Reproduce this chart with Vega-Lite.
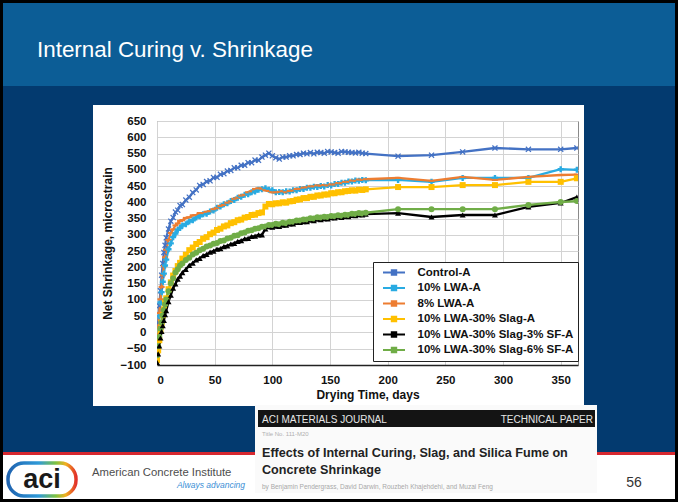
{
  "$schema": "https://vega.github.io/schema/vega-lite/v6.json",
  "width": 421,
  "height": 244,
  "autosize": "none",
  "padding": {"left": 157, "top": 121, "right": 100, "bottom": 137},
  "background": "#ffffff",
  "config": {
    "font": "Liberation Sans",
    "view": {"stroke": "#8a8a8a", "strokeWidth": 1},
    "axis": {
      "labelFont": "Liberation Sans",
      "labelFontWeight": "bold",
      "labelFontSize": 11.5,
      "labelColor": "#111111",
      "titleFont": "Liberation Sans",
      "titleFontWeight": "bold",
      "titleFontSize": 12,
      "titleColor": "#111111",
      "ticks": false,
      "gridColor": "#d3d3d3",
      "gridWidth": 1
    }
  },
  "datasets": {
    "shrink": [
      {"day": 0, "Control-A": -30, "10% LWA-A": -40, "8% LWA-A": -42, "10% LWA-30% Slag-A": -85, "10% LWA-30% Slag-3% SF-A": -92, "10% LWA-30% Slag-6% SF-A": -70},
      {"day": 1, "Control-A": 30, "10% LWA-A": 8, "8% LWA-A": 15, "10% LWA-30% Slag-A": -55, "10% LWA-30% Slag-3% SF-A": -66, "10% LWA-30% Slag-6% SF-A": -42},
      {"day": 2, "Control-A": 82, "10% LWA-A": 50, "8% LWA-A": 60, "10% LWA-30% Slag-A": -24, "10% LWA-30% Slag-3% SF-A": -41, "10% LWA-30% Slag-6% SF-A": -14},
      {"day": 3, "Control-A": 128, "10% LWA-A": 92, "8% LWA-A": 102, "10% LWA-30% Slag-A": 6, "10% LWA-30% Slag-3% SF-A": -17, "10% LWA-30% Slag-6% SF-A": 12},
      {"day": 4, "Control-A": 176, "10% LWA-A": 124, "8% LWA-A": 140, "10% LWA-30% Slag-A": 30, "10% LWA-30% Slag-3% SF-A": 3, "10% LWA-30% Slag-6% SF-A": 31},
      {"day": 5, "Control-A": 212, "10% LWA-A": 156, "8% LWA-A": 176, "10% LWA-30% Slag-A": 53, "10% LWA-30% Slag-3% SF-A": 21, "10% LWA-30% Slag-6% SF-A": 53},
      {"day": 6, "Control-A": 246, "10% LWA-A": 181, "8% LWA-A": 204, "10% LWA-30% Slag-A": 71, "10% LWA-30% Slag-3% SF-A": 37, "10% LWA-30% Slag-6% SF-A": 69},
      {"day": 7, "Control-A": 268, "10% LWA-A": 206, "8% LWA-A": 231, "10% LWA-30% Slag-A": 91, "10% LWA-30% Slag-3% SF-A": 55, "10% LWA-30% Slag-6% SF-A": 87},
      {"day": 8, "Control-A": 291, "10% LWA-A": 224, "8% LWA-A": 254, "10% LWA-30% Slag-A": 105, "10% LWA-30% Slag-3% SF-A": 67, "10% LWA-30% Slag-6% SF-A": 101},
      {"day": 10, "Control-A": 318, "10% LWA-A": 256, "8% LWA-A": 284, "10% LWA-30% Slag-A": 133, "10% LWA-30% Slag-3% SF-A": 95, "10% LWA-30% Slag-6% SF-A": 127},
      {"day": 12, "Control-A": 342, "10% LWA-A": 274, "8% LWA-A": 306, "10% LWA-30% Slag-A": 154, "10% LWA-30% Slag-3% SF-A": 115, "10% LWA-30% Slag-6% SF-A": 151},
      {"day": 14, "Control-A": 353, "10% LWA-A": 293, "8% LWA-A": 317, "10% LWA-30% Slag-A": 175, "10% LWA-30% Slag-3% SF-A": 136, "10% LWA-30% Slag-6% SF-A": 167},
      {"day": 16, "Control-A": 370, "10% LWA-A": 304, "8% LWA-A": 329, "10% LWA-30% Slag-A": 189, "10% LWA-30% Slag-3% SF-A": 149, "10% LWA-30% Slag-6% SF-A": 184},
      {"day": 18, "Control-A": 376, "10% LWA-A": 316, "8% LWA-A": 335, "10% LWA-30% Slag-A": 204, "10% LWA-30% Slag-3% SF-A": 164, "10% LWA-30% Slag-6% SF-A": 194},
      {"day": 20, "Control-A": 390, "10% LWA-A": 321, "8% LWA-A": 343, "10% LWA-30% Slag-A": 214, "10% LWA-30% Slag-3% SF-A": 173, "10% LWA-30% Slag-6% SF-A": 206},
      {"day": 22, "Control-A": 393, "10% LWA-A": 329, "8% LWA-A": 345, "10% LWA-30% Slag-A": 227, "10% LWA-30% Slag-3% SF-A": 184, "10% LWA-30% Slag-6% SF-A": 212},
      {"day": 25, "Control-A": 407, "10% LWA-A": 333, "8% LWA-A": 352, "10% LWA-30% Slag-A": 239, "10% LWA-30% Slag-3% SF-A": 194, "10% LWA-30% Slag-6% SF-A": 223},
      {"day": 28, "Control-A": 416, "10% LWA-A": 341, "8% LWA-A": 354, "10% LWA-30% Slag-A": 253, "10% LWA-30% Slag-3% SF-A": 206, "10% LWA-30% Slag-6% SF-A": 230},
      {"day": 31, "Control-A": 430, "10% LWA-A": 345, "8% LWA-A": 360, "10% LWA-30% Slag-A": 261, "10% LWA-30% Slag-3% SF-A": 213, "10% LWA-30% Slag-6% SF-A": 240},
      {"day": 34, "Control-A": 438, "10% LWA-A": 353, "8% LWA-A": 361, "10% LWA-30% Slag-A": 272, "10% LWA-30% Slag-3% SF-A": 223, "10% LWA-30% Slag-6% SF-A": 245},
      {"day": 37, "Control-A": 452, "10% LWA-A": 357, "8% LWA-A": 367, "10% LWA-30% Slag-A": 278, "10% LWA-30% Slag-3% SF-A": 228, "10% LWA-30% Slag-6% SF-A": 253},
      {"day": 40, "Control-A": 455, "10% LWA-A": 363, "8% LWA-A": 367, "10% LWA-30% Slag-A": 288, "10% LWA-30% Slag-3% SF-A": 236, "10% LWA-30% Slag-6% SF-A": 257},
      {"day": 43, "Control-A": 464, "10% LWA-A": 365, "8% LWA-A": 371, "10% LWA-30% Slag-A": 293, "10% LWA-30% Slag-3% SF-A": 240, "10% LWA-30% Slag-6% SF-A": 264},
      {"day": 46, "Control-A": 466, "10% LWA-A": 372, "8% LWA-A": 373, "10% LWA-30% Slag-A": 302, "10% LWA-30% Slag-3% SF-A": 247, "10% LWA-30% Slag-6% SF-A": 267},
      {"day": 49, "Control-A": 476, "10% LWA-A": 375, "8% LWA-A": 379, "10% LWA-30% Slag-A": 307, "10% LWA-30% Slag-3% SF-A": 250, "10% LWA-30% Slag-6% SF-A": 273},
      {"day": 52, "Control-A": 477, "10% LWA-A": 383, "8% LWA-A": 382, "10% LWA-30% Slag-A": 315, "10% LWA-30% Slag-3% SF-A": 256, "10% LWA-30% Slag-6% SF-A": 275},
      {"day": 55, "Control-A": 486, "10% LWA-A": 387, "8% LWA-A": 389, "10% LWA-30% Slag-A": 319, "10% LWA-30% Slag-3% SF-A": 258, "10% LWA-30% Slag-6% SF-A": 281},
      {"day": 58, "Control-A": 488, "10% LWA-A": 394, "8% LWA-A": 392, "10% LWA-30% Slag-A": 326, "10% LWA-30% Slag-3% SF-A": 264, "10% LWA-30% Slag-6% SF-A": 283},
      {"day": 61, "Control-A": 496, "10% LWA-A": 397, "8% LWA-A": 399, "10% LWA-30% Slag-A": 329, "10% LWA-30% Slag-3% SF-A": 266, "10% LWA-30% Slag-6% SF-A": 289},
      {"day": 64, "Control-A": 498, "10% LWA-A": 404, "8% LWA-A": 403, "10% LWA-30% Slag-A": 336, "10% LWA-30% Slag-3% SF-A": 272, "10% LWA-30% Slag-6% SF-A": 291},
      {"day": 67, "Control-A": 506, "10% LWA-A": 407, "8% LWA-A": 411, "10% LWA-30% Slag-A": 339, "10% LWA-30% Slag-3% SF-A": 274, "10% LWA-30% Slag-6% SF-A": 297},
      {"day": 70, "Control-A": 506, "10% LWA-A": 414, "8% LWA-A": 414, "10% LWA-30% Slag-A": 345, "10% LWA-30% Slag-3% SF-A": 280, "10% LWA-30% Slag-6% SF-A": 299},
      {"day": 73, "Control-A": 514, "10% LWA-A": 417, "8% LWA-A": 421, "10% LWA-30% Slag-A": 347, "10% LWA-30% Slag-3% SF-A": 282, "10% LWA-30% Slag-6% SF-A": 305},
      {"day": 76, "Control-A": 514, "10% LWA-A": 423, "8% LWA-A": 423, "10% LWA-30% Slag-A": 353, "10% LWA-30% Slag-3% SF-A": 288, "10% LWA-30% Slag-6% SF-A": 307},
      {"day": 79, "Control-A": 522, "10% LWA-A": 425, "8% LWA-A": 431, "10% LWA-30% Slag-A": 355, "10% LWA-30% Slag-3% SF-A": 289, "10% LWA-30% Slag-6% SF-A": 313},
      {"day": 82, "Control-A": 522, "10% LWA-A": 431, "8% LWA-A": 434, "10% LWA-30% Slag-A": 361, "10% LWA-30% Slag-3% SF-A": 295, "10% LWA-30% Slag-6% SF-A": 314},
      {"day": 85, "Control-A": 530, "10% LWA-A": 433, "8% LWA-A": 441, "10% LWA-30% Slag-A": 362, "10% LWA-30% Slag-3% SF-A": 296, "10% LWA-30% Slag-6% SF-A": 319},
      {"day": 88, "Control-A": 529, "10% LWA-A": 439, "8% LWA-A": 443, "10% LWA-30% Slag-A": 367, "10% LWA-30% Slag-3% SF-A": 300, "10% LWA-30% Slag-6% SF-A": 320},
      {"day": 91, "Control-A": 539, "10% LWA-A": 440, "8% LWA-A": 442, "10% LWA-30% Slag-A": 369, "10% LWA-30% Slag-3% SF-A": 300, "10% LWA-30% Slag-6% SF-A": 325},
      {"day": 94, "Control-A": 545, "10% LWA-A": 443, "8% LWA-A": 437, "10% LWA-30% Slag-A": 387, "10% LWA-30% Slag-3% SF-A": 318, "10% LWA-30% Slag-6% SF-A": 326},
      {"day": 97, "Control-A": 551, "10% LWA-A": 439, "8% LWA-A": 435, "10% LWA-30% Slag-A": 395, "10% LWA-30% Slag-3% SF-A": 325, "10% LWA-30% Slag-6% SF-A": 330},
      {"day": 100, "Control-A": 543, "10% LWA-A": 437, "8% LWA-A": 431, "10% LWA-30% Slag-A": 394, "10% LWA-30% Slag-3% SF-A": 324, "10% LWA-30% Slag-6% SF-A": 330},
      {"day": 103, "Control-A": 537, "10% LWA-A": 431, "8% LWA-A": 431, "10% LWA-30% Slag-A": 397, "10% LWA-30% Slag-3% SF-A": 327, "10% LWA-30% Slag-6% SF-A": 334},
      {"day": 106, "Control-A": 533, "10% LWA-A": 432, "8% LWA-A": 432, "10% LWA-30% Slag-A": 397, "10% LWA-30% Slag-3% SF-A": 326, "10% LWA-30% Slag-6% SF-A": 333},
      {"day": 109, "Control-A": 539, "10% LWA-A": 431, "8% LWA-A": 434, "10% LWA-30% Slag-A": 400, "10% LWA-30% Slag-3% SF-A": 330, "10% LWA-30% Slag-6% SF-A": 337},
      {"day": 112, "Control-A": 539, "10% LWA-A": 434, "8% LWA-A": 431, "10% LWA-30% Slag-A": 399, "10% LWA-30% Slag-3% SF-A": 330, "10% LWA-30% Slag-6% SF-A": 336},
      {"day": 115, "Control-A": 543, "10% LWA-A": 433, "8% LWA-A": 435, "10% LWA-30% Slag-A": 403, "10% LWA-30% Slag-3% SF-A": 334, "10% LWA-30% Slag-6% SF-A": 340},
      {"day": 118, "Control-A": 543, "10% LWA-A": 437, "8% LWA-A": 436, "10% LWA-30% Slag-A": 404, "10% LWA-30% Slag-3% SF-A": 334, "10% LWA-30% Slag-6% SF-A": 340},
      {"day": 121, "Control-A": 547, "10% LWA-A": 437, "8% LWA-A": 441, "10% LWA-30% Slag-A": 408, "10% LWA-30% Slag-3% SF-A": 338, "10% LWA-30% Slag-6% SF-A": 344},
      {"day": 124, "Control-A": 547, "10% LWA-A": 441, "8% LWA-A": 441, "10% LWA-30% Slag-A": 409, "10% LWA-30% Slag-3% SF-A": 338, "10% LWA-30% Slag-6% SF-A": 344},
      {"day": 127, "Control-A": 551, "10% LWA-A": 441, "8% LWA-A": 445, "10% LWA-30% Slag-A": 413, "10% LWA-30% Slag-3% SF-A": 341, "10% LWA-30% Slag-6% SF-A": 347},
      {"day": 130, "Control-A": 549, "10% LWA-A": 445, "8% LWA-A": 446, "10% LWA-30% Slag-A": 413, "10% LWA-30% Slag-3% SF-A": 341, "10% LWA-30% Slag-6% SF-A": 347},
      {"day": 133, "Control-A": 553, "10% LWA-A": 445, "8% LWA-A": 449, "10% LWA-30% Slag-A": 417, "10% LWA-30% Slag-3% SF-A": 345, "10% LWA-30% Slag-6% SF-A": 351},
      {"day": 136, "Control-A": 549, "10% LWA-A": 448, "8% LWA-A": 449, "10% LWA-30% Slag-A": 417, "10% LWA-30% Slag-3% SF-A": 344, "10% LWA-30% Slag-6% SF-A": 350},
      {"day": 139, "Control-A": 554, "10% LWA-A": 447, "8% LWA-A": 452, "10% LWA-30% Slag-A": 421, "10% LWA-30% Slag-3% SF-A": 348, "10% LWA-30% Slag-6% SF-A": 354},
      {"day": 142, "Control-A": 553, "10% LWA-A": 450, "8% LWA-A": 451, "10% LWA-30% Slag-A": 421, "10% LWA-30% Slag-3% SF-A": 347, "10% LWA-30% Slag-6% SF-A": 353},
      {"day": 145, "Control-A": 551, "10% LWA-A": 449, "8% LWA-A": 453, "10% LWA-30% Slag-A": 424, "10% LWA-30% Slag-3% SF-A": 350, "10% LWA-30% Slag-6% SF-A": 356},
      {"day": 148, "Control-A": 556, "10% LWA-A": 453, "8% LWA-A": 452, "10% LWA-30% Slag-A": 424, "10% LWA-30% Slag-3% SF-A": 349, "10% LWA-30% Slag-6% SF-A": 355},
      {"day": 151, "Control-A": 555, "10% LWA-A": 452, "8% LWA-A": 455, "10% LWA-30% Slag-A": 428, "10% LWA-30% Slag-3% SF-A": 353, "10% LWA-30% Slag-6% SF-A": 358},
      {"day": 154, "Control-A": 553, "10% LWA-A": 456, "8% LWA-A": 455, "10% LWA-30% Slag-A": 428, "10% LWA-30% Slag-3% SF-A": 352, "10% LWA-30% Slag-6% SF-A": 357},
      {"day": 157, "Control-A": 551, "10% LWA-A": 456, "8% LWA-A": 459, "10% LWA-30% Slag-A": 431, "10% LWA-30% Slag-3% SF-A": 355, "10% LWA-30% Slag-6% SF-A": 360},
      {"day": 160, "Control-A": 556, "10% LWA-A": 460, "8% LWA-A": 459, "10% LWA-30% Slag-A": 431, "10% LWA-30% Slag-3% SF-A": 354, "10% LWA-30% Slag-6% SF-A": 359},
      {"day": 163, "Control-A": 555, "10% LWA-A": 460, "8% LWA-A": 463, "10% LWA-30% Slag-A": 434, "10% LWA-30% Slag-3% SF-A": 357, "10% LWA-30% Slag-6% SF-A": 362},
      {"day": 166, "Control-A": 554, "10% LWA-A": 464, "8% LWA-A": 463, "10% LWA-30% Slag-A": 435, "10% LWA-30% Slag-3% SF-A": 356, "10% LWA-30% Slag-6% SF-A": 361},
      {"day": 169, "Control-A": 553, "10% LWA-A": 464, "8% LWA-A": 467, "10% LWA-30% Slag-A": 437, "10% LWA-30% Slag-3% SF-A": 360, "10% LWA-30% Slag-6% SF-A": 365},
      {"day": 172, "Control-A": 552, "10% LWA-A": 467, "8% LWA-A": 466, "10% LWA-30% Slag-A": 436, "10% LWA-30% Slag-3% SF-A": 359, "10% LWA-30% Slag-6% SF-A": 364},
      {"day": 175, "Control-A": 554, "10% LWA-A": 466, "8% LWA-A": 470, "10% LWA-30% Slag-A": 439, "10% LWA-30% Slag-3% SF-A": 362, "10% LWA-30% Slag-6% SF-A": 367},
      {"day": 178, "Control-A": 551, "10% LWA-A": 469, "8% LWA-A": 469, "10% LWA-30% Slag-A": 438, "10% LWA-30% Slag-3% SF-A": 361, "10% LWA-30% Slag-6% SF-A": 366},
      {"day": 181, "Control-A": 550, "10% LWA-A": 468, "8% LWA-A": 471, "10% LWA-30% Slag-A": 440, "10% LWA-30% Slag-3% SF-A": 364, "10% LWA-30% Slag-6% SF-A": 368},
      {"day": 209, "Control-A": 542, "10% LWA-A": 469, "8% LWA-A": 475, "10% LWA-30% Slag-A": 447, "10% LWA-30% Slag-3% SF-A": 367, "10% LWA-30% Slag-6% SF-A": 379},
      {"day": 238, "Control-A": 545, "10% LWA-A": 463, "8% LWA-A": 466, "10% LWA-30% Slag-A": 447, "10% LWA-30% Slag-3% SF-A": 355, "10% LWA-30% Slag-6% SF-A": 379},
      {"day": 265, "Control-A": 555, "10% LWA-A": 475, "8% LWA-A": 478, "10% LWA-30% Slag-A": 453, "10% LWA-30% Slag-3% SF-A": 361, "10% LWA-30% Slag-6% SF-A": 379},
      {"day": 293, "Control-A": 567, "10% LWA-A": 475, "8% LWA-A": 469, "10% LWA-30% Slag-A": 453, "10% LWA-30% Slag-3% SF-A": 361, "10% LWA-30% Slag-6% SF-A": 379},
      {"day": 322, "Control-A": 563, "10% LWA-A": 475, "8% LWA-A": 478, "10% LWA-30% Slag-A": 463, "10% LWA-30% Slag-3% SF-A": 386, "10% LWA-30% Slag-6% SF-A": 392},
      {"day": 350, "Control-A": 563, "10% LWA-A": 502, "8% LWA-A": 484, "10% LWA-30% Slag-A": 463, "10% LWA-30% Slag-3% SF-A": 398, "10% LWA-30% Slag-6% SF-A": 401},
      {"day": 364, "Control-A": 567, "10% LWA-A": 500, "8% LWA-A": 485, "10% LWA-30% Slag-A": 474, "10% LWA-30% Slag-3% SF-A": 416, "10% LWA-30% Slag-6% SF-A": 404}
    ]
  },
  "layer": [
    {"data": {"values": [{}]}, "mark": {"type": "rect", "x": -157, "x2": 521, "y": -121, "y2": -35, "fill": "#0c5d96"}},
    {"data": {"values": [{}]}, "mark": {"type": "rect", "x": -157, "x2": 521, "y": -35, "y2": -16, "fill": "#033a6f"}},
    {"data": {"values": [{}]}, "mark": {"type": "rect", "x": -157, "x2": -64, "y": -16, "y2": 332, "fill": "#033a6f"}},
    {"data": {"values": [{}]}, "mark": {"type": "rect", "x": 427, "x2": 521, "y": -16, "y2": 332, "fill": "#033a6f"}},
    {"data": {"values": [{}]}, "mark": {"type": "rect", "x": -64, "x2": 427, "y": 285, "y2": 332, "fill": "#033a6f"}},
    {"data": {"values": [{}]}, "mark": {"type": "rect", "x": -157, "x2": 521, "y": 331, "y2": 334, "fill": "#d7282f"}},
    {"data": {"values": [{}]}, "mark": {"type": "rect", "x": 98, "x2": 440, "y": 284, "y2": 372, "fill": "#fafafa"}},
    {"data": {"values": [{}]}, "mark": {"type": "rect", "x": 101, "x2": 438, "y": 289, "y2": 306, "fill": "#141414"}},
    {
      "data": {"values": [{}]},
      "mark": {
        "type": "rect", "x": -149, "x2": -81, "y": 342, "y2": 375, "cornerRadius": 16, "fill": "#ffffff", "strokeWidth": 3.5,
        "stroke": {"gradient": "linear", "x1": 0, "y1": 0, "x2": 1, "y2": 0,
          "stops": [{"offset": 0, "color": "#1f63b0"}, {"offset": 0.45, "color": "#2f9ad8"}, {"offset": 0.7, "color": "#7cc242"}, {"offset": 0.85, "color": "#f2b01e"}, {"offset": 1, "color": "#e2322b"}]}
      }
    },
    {"data": {"values": [{}]}, "mark": {"type": "rect", "x": -157, "x2": 521, "y": -121, "y2": 381, "fill": null, "stroke": "#000000", "strokeWidth": 6}},
    {
      "data": {"name": "shrink"},
      "transform": [
        {"fold": ["Control-A", "10% LWA-A", "8% LWA-A", "10% LWA-30% Slag-A", "10% LWA-30% Slag-3% SF-A", "10% LWA-30% Slag-6% SF-A"], "as": ["mix", "strain"]}
      ],
      "encoding": {
        "x": {
          "field": "day", "type": "quantitative",
          "scale": {"domain": [0, 365], "nice": false},
          "axis": {"values": [0, 50, 100, 150, 200, 250, 300, 350], "labelOverlap": false, "labelPadding": 9, "domainColor": "#222222", "domainWidth": 1.5, "title": "Drying Time, days", "titlePadding": 4}
        },
        "y": {
          "field": "strain", "type": "quantitative",
          "scale": {"domain": [-100, 650], "nice": false, "zero": false},
          "axis": {"values": [-100, -50, 0, 50, 100, 150, 200, 250, 300, 350, 400, 450, 500, 550, 600, 650], "labelOverlap": false, "labelPadding": 11, "domain": false, "title": "Net Shrinkage, microstrain", "titlePadding": 6}
        },
        "color": {
          "field": "mix", "type": "nominal",
          "scale": {
            "domain": ["Control-A", "10% LWA-A", "8% LWA-A", "10% LWA-30% Slag-A", "10% LWA-30% Slag-3% SF-A", "10% LWA-30% Slag-6% SF-A"],
            "range": ["#4472c4", "#29abe2", "#ed7d31", "#ffc000", "#000000", "#70ad47"]
          },
          "legend": {
            "orient": "none", "legendX": 216, "legendY": 141, "title": null, "direction": "vertical",
            "fillColor": "#ffffff", "strokeColor": "#222222", "padding": 4, "rowPadding": 2.5,
            "labelFont": "Liberation Sans", "labelFontSize": 11.5, "labelFontWeight": "bold", "labelColor": "#111111",
            "symbolType": "M-2,0H2M-0.4,-0.4H0.4V0.4H-0.4Z", "symbolSize": 121, "symbolStrokeWidth": 2,
            "symbolOffset": 10.5, "labelOffset": 17
          }
        }
      },
      "layer": [
        {"mark": {"type": "line", "strokeWidth": 2.3, "clip": true}},
        {
          "mark": {"type": "point", "filled": true, "size": 36, "opacity": 1, "clip": true},
          "encoding": {
            "shape": {
              "field": "mix", "type": "nominal", "legend": null,
              "scale": {
                "range": ["triangle-up", "circle", "square", "cross", "M-1,-0.35H1V0.35H-1Z", "M-1,-0.7L-0.7,-1L0,-0.3L0.7,-1L1,-0.7L0.3,0L1,0.7L0.7,1L0,0.3L-0.7,1L-1,0.7L-0.3,0Z"]
              }
            }
          }
        }
      ]
    },
    {"data": {"values": [{}]}, "mark": {"type": "text", "x": -120, "y": -64, "text": "Internal Curing v. Shrinkage", "font": "Liberation Sans", "fontSize": 22.4, "fill": "#ffffff", "align": "left", "baseline": "alphabetic"}},
    {"data": {"values": [{}]}, "mark": {"type": "text", "x": 105, "y": 301.5, "text": "ACI MATERIALS JOURNAL", "fontSize": 10, "fill": "#e6e6e6", "align": "left", "baseline": "alphabetic"}},
    {"data": {"values": [{}]}, "mark": {"type": "text", "x": 436, "y": 301.5, "text": "TECHNICAL PAPER", "fontSize": 10, "fill": "#e6e6e6", "align": "right", "baseline": "alphabetic"}},
    {"data": {"values": [{}]}, "mark": {"type": "text", "x": 105, "y": 315, "text": "Title No. 111-M20", "fontSize": 6, "fill": "#b0b0b0", "align": "left", "baseline": "alphabetic"}},
    {"data": {"values": [{}]}, "mark": {"type": "text", "x": 105, "y": 336, "text": "Effects of Internal Curing, Slag, and Silica Fume on", "fontSize": 12.6, "fontWeight": "bold", "fill": "#222222", "align": "left", "baseline": "alphabetic"}},
    {"data": {"values": [{}]}, "mark": {"type": "text", "x": 105, "y": 353, "text": "Concrete Shrinkage", "fontSize": 12.6, "fontWeight": "bold", "fill": "#222222", "align": "left", "baseline": "alphabetic"}},
    {"data": {"values": [{}]}, "mark": {"type": "text", "x": 105, "y": 368, "text": "by Benjamin Pendergrass, David Darwin, Rouzbeh Khajehdehi, and Muzai Feng", "fontSize": 6.5, "fill": "#a8a8a8", "align": "left", "baseline": "alphabetic"}},
    {"data": {"values": [{}]}, "mark": {"type": "text", "x": -115, "y": 359, "text": "aci", "fontSize": 27, "fontWeight": "bold", "fill": "#1a1a1a", "align": "center", "baseline": "middle"}},
    {"data": {"values": [{}]}, "mark": {"type": "text", "x": -65, "y": 355, "text": "American Concrete Institute", "fontSize": 11.3, "fill": "#4d4d4d", "align": "left", "baseline": "alphabetic"}},
    {"data": {"values": [{}]}, "mark": {"type": "text", "x": 88, "y": 367, "text": "Always advancing", "fontSize": 8.5, "fontStyle": "italic", "fill": "#3b8fd6", "align": "right", "baseline": "alphabetic"}},
    {"data": {"values": [{}]}, "mark": {"type": "text", "x": 477, "y": 366, "text": "56", "fontSize": 14, "fill": "#333333", "align": "center", "baseline": "alphabetic"}}
  ]
}
